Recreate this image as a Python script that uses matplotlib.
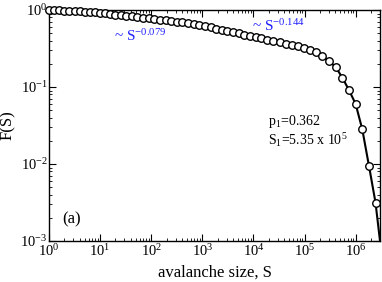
import numpy as np
import matplotlib
matplotlib.use('Agg')
import matplotlib.pyplot as plt

plt.rcParams['font.family'] = 'Liberation Serif'
plt.rcParams['mathtext.fontset'] = 'custom'
plt.rcParams['mathtext.rm'] = 'Liberation Serif'
plt.rcParams['mathtext.it'] = 'Liberation Serif:italic'
plt.rcParams['mathtext.bf'] = 'Liberation Serif:bold'

# avalanche sizes (log binned) and F(S)
S = [1, 1.26, 1.58, 2.0, 2.51, 3.16, 3.98, 5.01, 6.31, 7.94,
     10, 12.6, 15.8, 20, 25.1, 32.4, 41.7, 53.7, 69.2, 89.1,
     115, 148, 191, 245, 316, 407, 525, 676, 871, 1120,
     1450, 1860, 2400, 3090, 3980, 5130, 6610, 8510, 1.10e4, 1.41e4,
     1.86e4, 2.45e4, 3.24e4, 4.27e4, 5.62e4, 7.41e4, 9.77e4, 1.29e5, 1.70e5, 2.24e5,
     3.02e5, 4.07e5, 5.50e5, 7.41e5, 1.00e6, 1.35e6, 1.82e6, 2.45e6]
F = [1.000, 0.993, 0.986, 0.979, 0.973, 0.966, 0.957, 0.948, 0.940, 0.931,
     0.923, 0.906, 0.889, 0.873, 0.857, 0.841, 0.824, 0.807, 0.792, 0.776,
     0.760, 0.746, 0.731, 0.716, 0.703, 0.689, 0.675, 0.661, 0.641, 0.618,
     0.596, 0.574, 0.553, 0.533, 0.515, 0.497, 0.479, 0.461, 0.445, 0.429,
     0.412, 0.396, 0.381, 0.366, 0.351, 0.339, 0.324, 0.305, 0.282, 0.251,
     0.216, 0.182, 0.132, 0.0912, 0.0603, 0.0282, 0.00955, 0.00316]

# fitted curve (black), extends to the bottom of the axes
fit_S = S + [3.0e6]
fit_F = F + [0.001]

# power-law guides (blue)
pl1_S = [10, 1000]
pl1_F = [0.923, 0.652]
pl2_S = [1000, 1e5]
pl2_F = [0.628, 0.324]

fig = plt.figure(figsize=(3.82, 2.82), dpi=100)
ax = fig.add_axes([49/382, 1 - 241/282, 331/382, 231/282])

ax.plot(fit_S, fit_F, color='black', lw=1.5, zorder=2)
ax.plot(pl1_S, pl1_F, color='#1f1fff', lw=2, zorder=3)
ax.plot(pl2_S, pl2_F, color='#1f1fff', lw=2, zorder=3)
ax.plot(S, F, 'o', mfc='white', mec='black', mew=1.0, ms=5.4, zorder=4, clip_on=False)

ax.set_xscale('log')
ax.set_yscale('log')
ax.set_xlim(1, 3.0e6)
ax.set_ylim(1e-3, 1)
ax.set_xticks([1, 10, 1e2, 1e3, 1e4, 1e5, 1e6])
ax.set_yticks([1e-3, 1e-2, 1e-1, 1])

ax.tick_params(which='both', direction='in', top=True, right=True, labelsize=10.5)
ax.tick_params(which='major', length=5, width=0.8, pad=1.5)
ax.tick_params(which='minor', length=2.5, width=0.6)
ax.tick_params(axis='y', pad=1)
for sp in ax.spines.values():
    sp.set_linewidth(1.0)

ax.set_xlabel('avalanche size, S', fontsize=12, labelpad=4)
ax.set_ylabel('F(S)', fontsize=12, labelpad=3)

ax.text(19, 0.40, r'~ S$^{-0.079}$', color='#1f1fff', fontsize=11)
ax.text(9.5e3, 0.53, r'~ S$^{-0.144}$', color='#1f1fff', fontsize=11)
ax.text(1.9e4, 0.032, r'p$_1$=0.362', fontsize=10)
ax.text(1.9e4, 0.0177, r'S$_1$=5.35 x 10$^5$', fontsize=10)
ax.text(1.8, 0.0017, '(a)', fontsize=12)

fig.savefig('out.png', dpi=100)
